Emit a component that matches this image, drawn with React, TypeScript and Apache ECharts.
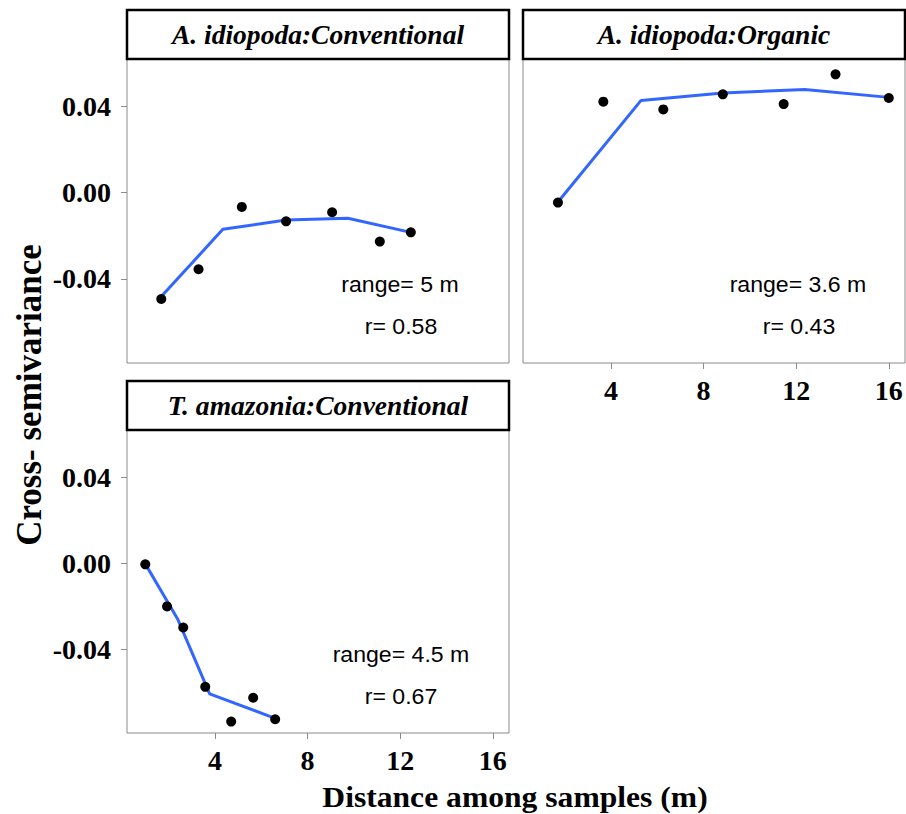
import React, { useEffect, useRef } from "react";
import * as echarts from "echarts";

// ---- data ----
const xTicks = [4, 8, 12, 16];
const yTicks = [-0.04, 0, 0.04];

const panelTitles = [
  "A. idiopoda:Conventional",
  "A. idiopoda:Organic",
  "T. amazonia:Conventional",
];
const rangeLabels = ["range= 5 m", "range= 3.6 m", "range= 4.5 m"];
const rLabels = ["r= 0.58", "r= 0.43", "r= 0.67"];

// Panel 1: A. idiopoda : Conventional
const p1X = [1.68, 3.29, 5.16, 7.07, 9.06, 11.12, 12.46];
const p1Y = [-0.0493, -0.0355, -0.0066, -0.0133, -0.0091, -0.0227, -0.0184];
const fit1X = [1.68, 4.34, 7.07, 9.74, 12.46];
const fit1Y = [-0.0482, -0.017, -0.0127, -0.0119, -0.0184];

// Panel 2: A. idiopoda : Organic
const p2X = [1.71, 3.67, 6.26, 8.83, 11.46, 13.7, 16.0];
const p2Y = [-0.0046, 0.0422, 0.0386, 0.0456, 0.0411, 0.0549, 0.0439];
const fit2X = [1.71, 5.3, 8.83, 12.37, 16.0];
const fit2Y = [-0.0043, 0.0428, 0.0462, 0.0479, 0.0442];

// Panel 3: T. amazonia : Conventional
const p3X = [0.99, 1.93, 2.63, 3.58, 4.7, 5.65, 6.6];
const p3Y = [-0.0005, -0.0201, -0.0299, -0.0575, -0.0737, -0.0626, -0.0726];
const fit3X = [0.99, 2.38, 3.77, 6.6];
const fit3Y = [-0.0003, -0.0258, -0.0608, -0.0722];

const X_MIN = 0.2;
const X_MAX = 16.7;
const Y_MIN = -0.079;
const Y_MAX = 0.062;

const zip = (xs: number[], ys: number[]) => xs.map((x, i) => [x, ys[i]]);

const SERIF = "'Liberation Serif', 'Times New Roman', serif";
const SANS = "'Liberation Sans', Arial, sans-serif";
const GRAY = "#8a8a8a";
const BLUE = "#3366ff";

export default function App() {
  const ref = useRef<HTMLDivElement>(null);

  useEffect(() => {
    document.body.style.margin = "0";
    if (!ref.current) return;
    const chart = echarts.init(ref.current, undefined, { renderer: "svg" });

    const grids = [
      { left: 127, top: 59, width: 382, height: 304 },
      { left: 523, top: 59, width: 382, height: 304 },
      { left: 127, top: 430, width: 382, height: 303 },
    ];
    const showX = [false, true, true];
    const showY = [true, false, true];

    const xAxes = grids.map((_, i) => ({
      type: "value",
      gridIndex: i,
      min: X_MIN,
      max: X_MAX,
      position: "bottom",
      axisLine: { show: false, onZero: false },
      splitLine: { show: false },
      axisTick: {
        show: showX[i],
        length: 6,
        lineStyle: { color: GRAY, width: 1 },
        customValues: xTicks,
      },
      axisLabel: {
        show: showX[i],
        customValues: xTicks,
        margin: 13,
        fontFamily: SERIF,
        fontWeight: "bold",
        fontSize: 28,
        color: "#000",
      },
    }));
    const yAxes = grids.map((_, i) => ({
      type: "value",
      gridIndex: i,
      min: Y_MIN,
      max: Y_MAX,
      position: "left",
      axisLine: { show: false, onZero: false },
      splitLine: { show: false },
      axisTick: {
        show: showY[i],
        length: 6,
        lineStyle: { color: GRAY, width: 1 },
        customValues: yTicks,
      },
      axisLabel: {
        show: showY[i],
        customValues: yTicks,
        margin: 16,
        fontFamily: SERIF,
        fontWeight: "bold",
        fontSize: 28,
        color: "#000",
        formatter: (v: number) => v.toFixed(2),
      },
    }));

    const pts = [zip(p1X, p1Y), zip(p2X, p2Y), zip(p3X, p3Y)];
    const fits = [zip(fit1X, fit1Y), zip(fit2X, fit2Y), zip(fit3X, fit3Y)];
    const series: any[] = [];
    for (let i = 0; i < 3; i++) {
      series.push({
        type: "line",
        xAxisIndex: i,
        yAxisIndex: i,
        data: fits[i],
        showSymbol: false,
        symbol: "none",
        lineStyle: { color: BLUE, width: 3 },
        z: 2,
      });
      series.push({
        type: "scatter",
        xAxisIndex: i,
        yAxisIndex: i,
        data: pts[i],
        symbol: "circle",
        symbolSize: 10,
        itemStyle: { color: "#000", opacity: 1 },
        z: 3,
      });
    }

    const graphic: any[] = [];
    grids.forEach((g, i) => {
      graphic.push({
        type: "rect",
        shape: { x: g.left, y: g.top - 49, width: g.width, height: 49 },
        style: { fill: "#fff", stroke: "#000", lineWidth: 2.5 },
      });
      graphic.push({
        type: "text",
        x: g.left + g.width / 2,
        y: g.top - 24,
        scaleX: 1.02,
        style: {
          text: panelTitles[i],
          font: `italic bold 27px ${SERIF}`,
          textAlign: "center",
          textVerticalAlign: "middle",
          fill: "#000",
        },
      });
    });

    const annot = [
      [400, 285, 401, 327],
      [798, 285, 799, 327],
      [401, 655, 401, 697],
    ];
    annot.forEach((a, i) => {
      graphic.push({
        type: "text",
        x: a[0],
        y: a[1],
        scaleX: 1.05,
        style: {
          text: rangeLabels[i],
          font: `22px ${SANS}`,
          textAlign: "center",
          textVerticalAlign: "middle",
          fill: "#000",
        },
      });
      graphic.push({
        type: "text",
        x: a[2],
        y: a[3],
        scaleX: 1.05,
        style: {
          text: rLabels[i],
          font: `22px ${SANS}`,
          textAlign: "center",
          textVerticalAlign: "middle",
          fill: "#000",
        },
      });
    });

    graphic.push({
      type: "text",
      x: 29,
      y: 395,
      rotation: Math.PI / 2,
      style: {
        text: "Cross- semivariance",
        font: `bold 35px ${SERIF}`,
        textAlign: "center",
        textVerticalAlign: "middle",
        fill: "#000",
      },
    });
    graphic.push({
      type: "text",
      x: 515,
      y: 797,
      scaleX: 1.09,
      style: {
        text: "Distance among samples (m)",
        font: `bold 29px ${SERIF}`,
        textAlign: "center",
        textVerticalAlign: "middle",
        fill: "#000",
      },
    });

    chart.setOption({
      animation: false,
      backgroundColor: "#fff",
      grid: grids.map((g) => ({
        ...g,
        show: true,
        borderColor: GRAY,
        borderWidth: 1,
        backgroundColor: "transparent",
      })),
      xAxis: xAxes,
      yAxis: yAxes,
      series,
      graphic,
    });

    return () => chart.dispose();
  }, []);

  return <div ref={ref} style={{ width: 906, height: 814 }} />;
}
